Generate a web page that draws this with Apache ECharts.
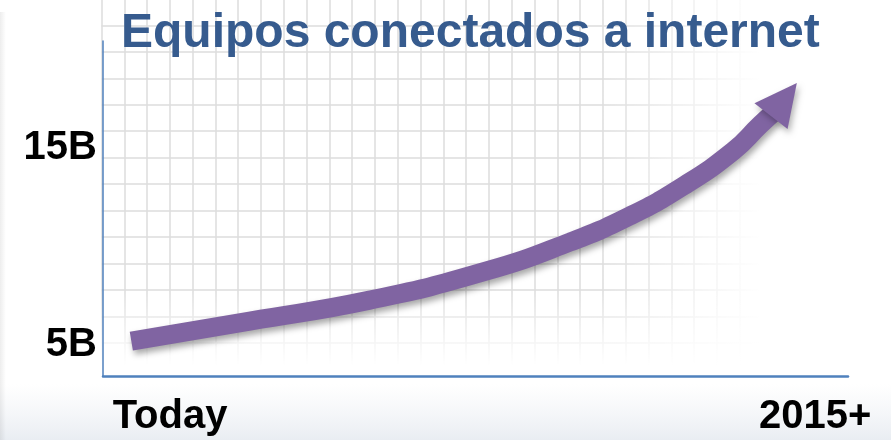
<!DOCTYPE html>
<html>
<head>
<meta charset="utf-8">
<script src="https://cdn.jsdelivr.net/npm/echarts@6/dist/echarts.min.js"></script>
<style>
  html, body { margin: 0; padding: 0; background: #ffffff; }
  #chart { width: 891px; height: 440px; }
</style>
</head>
<body>
<div id="chart"></div>
<script>
// Growth of internet-connected devices (billions), from "Today" to "2015+"
const titleText = 'Equipos conectados a internet';

// horizontal progress (0 = left end of the time axis, 100 = right end)
const timeProgress = [3.8, 19.7, 35.8, 51.5, 62.7, 70.7, 77.9, 84.6, 88.2, 90.1];
// connected devices, billions
const devicesBillions = [5.2, 6.22, 7.28, 8.76, 10.23, 11.55, 13.07, 14.85, 16.17, 16.83];
// arrow head at the end of the curve
const arrowHead = [91.4, 17.46];

const xTickValues = [9.0, 95.6];
const xTickLabels = ['Today', '2015+'];
const yTickValues = [5, 15];
const yTickLabels = ['5B', '15B'];

const PURPLE = '#8064A2';
const AXIS_BLUE = '#4F81BD';
const LABEL_FONT = {
  fontFamily: 'Liberation Sans, Arial, sans-serif',
  fontWeight: 'bold',
  fontSize: 40,
  color: '#000000'
};

const chart = echarts.init(document.getElementById('chart'), null, { renderer: 'canvas' });

const option = {
  backgroundColor: '#ffffff',
  animation: false,
  title: {
    text: titleText,
    left: 121,
    top: 10,
    padding: 0,
    textStyle: {
      fontFamily: 'Liberation Sans, Arial, sans-serif',
      fontWeight: 'bold',
      fontSize: 48,
      color: '#365B8E'
    }
  },
  grid: [
    // main plot
    { left: 103, right: 43, top: 41, bottom: 64, containLabel: false, outerBoundsMode: 'none' },
    // graph-paper backdrop
    { left: 101.5, top: -1.05, width: 797.65, height: 423.2, containLabel: false, outerBoundsMode: 'none' }
  ],
  xAxis: [
    {
      type: 'value', gridIndex: 0, min: 0, max: 100, z: 4,
      axisLine: { show: true, lineStyle: { color: AXIS_BLUE, width: 2.5 } },
      axisTick: { show: false },
      splitLine: { show: false },
      axisLabel: Object.assign({
        show: true,
        customValues: xTickValues,
        margin: 21,
        formatter: v => xTickLabels[xTickValues.indexOf(v)]
      }, LABEL_FONT)
    },
    {
      type: 'value', gridIndex: 1, min: 0, max: 35, interval: 1, z: 0,
      axisLine: { show: false }, axisTick: { show: false }, axisLabel: { show: false },
      splitLine: { show: true, lineStyle: { color: '#dcdcdc', width: 1.5 } }
    }
  ],
  yAxis: [
    {
      type: 'value', gridIndex: 0, min: 3.43, max: 20.43, z: 4,
      axisLine: { show: true, lineStyle: { color: AXIS_BLUE, width: 1.5 } },
      axisTick: { show: false },
      splitLine: { show: false },
      axisLabel: Object.assign({
        show: true,
        customValues: yTickValues,
        margin: 6,
        formatter: v => yTickLabels[yTickValues.indexOf(v)]
      }, LABEL_FONT)
    },
    {
      type: 'value', gridIndex: 1, min: 0, max: 16, interval: 1, inverse: true, z: 0,
      axisLine: { show: false }, axisTick: { show: false }, axisLabel: { show: false },
      splitLine: { show: true, lineStyle: { color: '#dcdcdc', width: 1.5 } }
    }
  ],
  graphic: [
    // fade the graph paper out towards the right
    {
      type: 'rect', z: 1, silent: true,
      shape: { x: 600, y: 0, width: 291, height: 440 },
      style: {
        fill: new echarts.graphic.LinearGradient(0, 0, 1, 0, [
          { offset: 0, color: 'rgba(255,255,255,0)' },
          { offset: 0.55, color: 'rgba(255,255,255,1)' },
          { offset: 1, color: 'rgba(255,255,255,1)' }
        ])
      }
    },
    // fade the graph paper out towards the bottom
    {
      type: 'rect', z: 1, silent: true,
      shape: { x: 0, y: 290, width: 891, height: 150 },
      style: {
        fill: new echarts.graphic.LinearGradient(0, 0, 0, 1, [
          { offset: 0, color: 'rgba(255,255,255,0)' },
          { offset: 0.5, color: 'rgba(255,255,255,1)' },
          { offset: 1, color: 'rgba(255,255,255,1)' }
        ])
      }
    },
    // soft band along the bottom edge
    {
      type: 'rect', z: 1, silent: true,
      shape: { x: 0, y: 384, width: 891, height: 56 },
      style: {
        fill: new echarts.graphic.LinearGradient(0, 0, 0, 1, [
          { offset: 0, color: 'rgba(238,241,245,0)' },
          { offset: 1, color: 'rgba(233,237,242,1)' }
        ])
      }
    },
    // faint shading on the left edge
    {
      type: 'rect', z: 1, silent: true,
      shape: { x: 0, y: 12, width: 6, height: 428 },
      style: {
        fill: new echarts.graphic.LinearGradient(0, 0, 1, 0, [
          { offset: 0, color: 'rgba(0,0,0,0.07)' },
          { offset: 1, color: 'rgba(0,0,0,0)' }
        ])
      }
    }
  ],
  series: [
    {
      type: 'line',
      xAxisIndex: 0, yAxisIndex: 0,
      z: 3,
      data: timeProgress.map((x, i) => [x, devicesBillions[i]]),
      smooth: 0.5,
      symbol: 'none',
      lineStyle: {
        color: PURPLE,
        width: 19,
        cap: 'butt',
        join: 'round',
        shadowColor: 'rgba(0,0,0,0.35)',
        shadowBlur: 6,
        shadowOffsetX: 2,
        shadowOffsetY: 4
      },
      emphasis: { disabled: true }
    },
    {
      type: 'scatter',
      xAxisIndex: 0, yAxisIndex: 0,
      z: 3,
      data: [arrowHead],
      symbol: 'triangle',
      symbolSize: [42, 42],
      symbolRotate: -38,
      itemStyle: {
        color: PURPLE,
        opacity: 1,
        shadowColor: 'rgba(0,0,0,0.3)',
        shadowBlur: 6,
        shadowOffsetX: 2,
        shadowOffsetY: 4
      },
      emphasis: { disabled: true }
    }
  ]
};

chart.setOption(option);
</script>
</body>
</html>
